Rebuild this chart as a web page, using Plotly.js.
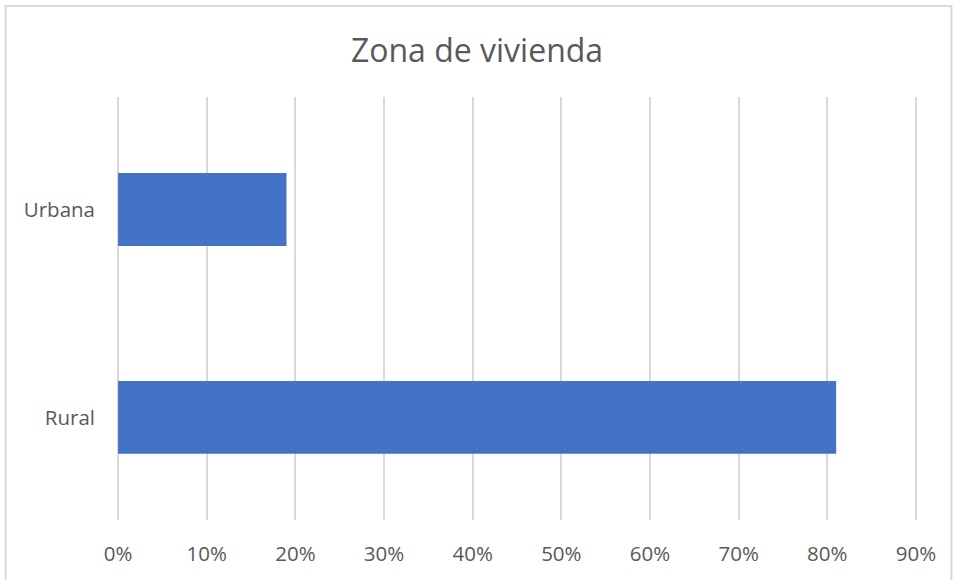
<!DOCTYPE html>
<html>
<head>
<meta charset="utf-8">
<script src="https://cdn.plot.ly/plotly-3.0.1.min.js"></script>
<style>html,body{margin:0;padding:0;background:#fff;}#chart{width:954px;height:580px;}</style>
</head>
<body>
<div id="chart"></div>
<script>
const categories = ["Rural", "Urbana"];
const values = [0.81, 0.19];
const tickValues = [0, 0.1, 0.2, 0.3, 0.4, 0.5, 0.6, 0.7, 0.8, 0.9];
const tickLabels = ["0%", "10%", "20%", "30%", "40%", "50%", "60%", "70%", "80%", "90%"];
const chartTitle = "Zona de vivienda";

const trace = {
  type: "bar",
  orientation: "h",
  y: categories,
  x: values,
  width: 0.35,
  marker: {color: "#4472C4"},
  hoverinfo: "none"
};

const layout = {
  width: 954, height: 580,
  margin: {l: 117, r: 37, t: 97, b: 60},
  paper_bgcolor: "#ffffff",
  plot_bgcolor: "#ffffff",
  showlegend: false,
  title: {text: chartTitle, x: 0.5, xanchor: "center", y: 0.913, yanchor: "middle",
          font: {family: "Open Sans, sans-serif", size: 32, color: "#595959"}},
  font: {family: "Open Sans, sans-serif", color: "#595959"},
  xaxis: {
    range: [-0.0012, 0.9012], tickvals: tickValues, ticktext: tickLabels,
    showgrid: true, gridcolor: "#d9d9d9", gridwidth: 2,
    zeroline: false, showline: false, ticks: "", ticklabelstandoff: 19,
    tickfont: {size: 20.5, color: "#595959"}, fixedrange: true
  },
  yaxis: {
    type: "category", range: [-0.493, 1.541],
    showgrid: false, zeroline: false, showline: false, ticks: "",
    ticklabelstandoff: 21,
    tickfont: {size: 20.5, color: "#595959"}, fixedrange: true
  },
  shapes: [{
    type: "rect", xref: "paper", yref: "paper",
    x0: -0.1392, x1: 1.043, y0: -0.2, y1: 1.2151,
    line: {color: "#d9d9d9", width: 2}, fillcolor: "rgba(0,0,0,0)", layer: "below"
  }]
};

Plotly.newPlot("chart", [trace], layout, {displayModeBar: false, staticPlot: true});
</script>
</body>
</html>
